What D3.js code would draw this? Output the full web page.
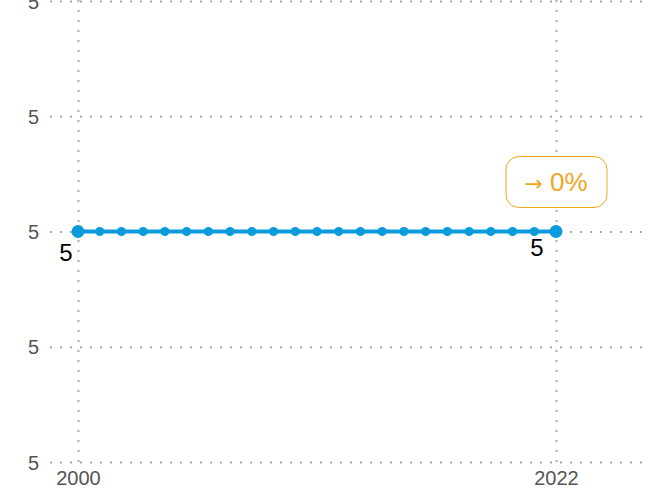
<!DOCTYPE html>
<html>
<head>
<meta charset="utf-8">
<script src="https://cdn.jsdelivr.net/npm/d3@7"></script>
<style>
  body { margin: 0; background: #fff; }
  svg { display: block; }
  svg text { font-family: "Liberation Sans", Arial, sans-serif; }
</style>
</head>
<body>
<div id="chart"></div>
<script>
// data
let years = d3.range(2000, 2023)
let values = [5, 5, 5, 5, 5, 5, 5, 5, 5, 5, 5, 5, 5, 5, 5, 5, 5, 5, 5, 5, 5, 5, 5]
let y_ticks = [4.9, 4.95, 5, 5.05, 5.1]
let x_ticks = [2000, 2022]
let change_arrow = "→"
let change_value = "0%"

let width = 649, height = 495
let line_color = "#0a9bdc"
let note_color = "#f2a51f"
let grid_color = "#aaaaaa"

let svg = d3.select("#chart").append("svg")
    .attr("width", width)
    .attr("height", height)

let x = d3.scaleLinear().domain([2000, 2022]).range([78, 556])
let y = d3.scaleLinear().domain([4.9, 5.1]).range([462, 1])

// horizontal grid + y labels
let y_axis = svg.append("g")
    .attr("transform", "translate(50,0)")
    .call(d3.axisLeft(y).tickValues(y_ticks).tickFormat(d3.format(".0f"))
        .tickSize(0).tickPadding(11))
y_axis.attr("font-family", null).attr("font-size", null)
y_axis.select(".domain").remove()
y_axis.selectAll("text")
    .attr("font-size", 20).attr("fill", "#555").attr("dy", "0.36em")
y_axis.selectAll(".tick").append("line")
    .attr("x1", 0).attr("x2", width - 50)
    .attr("stroke", grid_color).attr("stroke-width", 2)
    .attr("stroke-dasharray", "2 8")

// vertical grid + x labels
let x_axis = svg.append("g")
    .attr("transform", "translate(0,462)")
    .call(d3.axisBottom(x).tickValues(x_ticks).tickFormat(d3.format("d"))
        .tickSize(0).tickPadding(9))
x_axis.attr("font-family", null).attr("font-size", null)
x_axis.select(".domain").remove()
x_axis.selectAll("text").attr("font-size", 20).attr("fill", "#555")
x_axis.selectAll(".tick").append("line")
    .attr("y1", 0).attr("y2", -462)
    .attr("stroke", grid_color).attr("stroke-width", 2)
    .attr("stroke-dasharray", "2 8")

let data = years.map((d, i) => ({ year: d, value: values[i] }))

svg.append("path")
    .datum(data)
    .attr("fill", "none")
    .attr("stroke", line_color)
    .attr("stroke-width", 4)
    .attr("d", d3.line().x(d => x(d.year)).y(d => y(d.value)))

let last = data.length - 1
svg.selectAll(".dot")
    .data(data)
    .enter().append("circle")
    .attr("class", "dot")
    .attr("cx", d => x(d.year))
    .attr("cy", d => y(d.value))
    .attr("r", (d, i) => (i == 0 || i == last) ? 6.5 : 4.5)
    .attr("fill", line_color)

// end value labels
svg.append("text")
    .attr("x", x(data[0].year) - 12)
    .attr("y", y(data[0].value) + 29)
    .attr("text-anchor", "middle")
    .attr("font-size", 24)
    .text(d3.format(".0f")(data[0].value))

svg.append("text")
    .attr("x", x(data[last].year) - 19)
    .attr("y", y(data[last].value) + 24)
    .attr("text-anchor", "middle")
    .attr("font-size", 24)
    .text(d3.format(".0f")(data[last].value))

// change annotation
let note = svg.append("g")
    .attr("transform", `translate(${x(data[last].year)},${y(data[last].value) - 50})`)
note.append("rect")
    .attr("x", -50).attr("y", -25)
    .attr("width", 101).attr("height", 51)
    .attr("rx", 13)
    .attr("fill", "#fff")
    .attr("stroke", note_color)
    .attr("stroke-width", 1)
let note_text = note.append("text")
    .attr("text-anchor", "middle")
    .attr("y", 9.5)
    .attr("fill", note_color)
note_text.append("tspan")
    .attr("font-size", 22)
    .style("font-family", "'DejaVu Sans', sans-serif")
    .text(change_arrow + " ")
note_text.append("tspan")
    .attr("font-size", 26)
    .text(change_value)
</script>
</body>
</html>
